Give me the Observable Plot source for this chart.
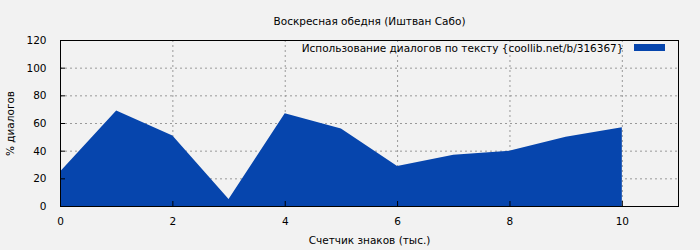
<!DOCTYPE html>
<html>
<head>
<meta charset="utf-8">
<script src="https://cdn.jsdelivr.net/npm/d3@7"></script>
<script src="https://cdn.jsdelivr.net/npm/@observablehq/plot@0.6"></script>
<style>
  html, body { margin: 0; padding: 0; background: #f2f2f2; }
  #chart { width: 700px; height: 250px; }
</style>
</head>
<body>
<div id="chart"></div>
<script>
const title = "Воскресная обедня (Иштван Сабо)";
const seriesName = "Использование диалогов по тексту {coollib.net/b/316367}";
const xLabel = "Счетчик знаков (тыс.)";
const yLabel = "% диалогов";
const xs = [0, 1, 2, 3, 4, 5, 6, 7, 8, 9, 10];
const ys = [25, 69, 51, 5, 67, 56, 29, 37, 40, 50, 57];
const xTicks = [0, 2, 4, 6, 8, 10];
const yTicks = [0, 20, 40, 60, 80, 100, 120];

const data = xs.map((x, i) => ({x, y: ys[i]}));
const font = "DejaVu Sans, sans-serif";
const fill = "#0645ad";
const fs = 10.5;

const chart = Plot.plot({
  width: 700,
  height: 250,
  marginLeft: 60,
  marginRight: 22,
  marginTop: 40,
  marginBottom: 44,
  style: {background: "#f2f2f2", fontFamily: font, fontSize: fs + "px", color: "#000"},
  x: {domain: [0, 11], label: null},
  y: {domain: [0, 120], label: null},
  marks: [
    Plot.gridX(xTicks.filter(d => d > 0), {stroke: "#999", strokeOpacity: 1, strokeDasharray: "2,3"}),
    Plot.gridY(yTicks.filter(d => d > 0 && d < 120), {stroke: "#999", strokeOpacity: 1, strokeDasharray: "2,3"}),
    Plot.areaY(data, {x: "x", y: "y", fill: fill}),
    Plot.frame({stroke: "#000"}),
    Plot.axisX({ticks: xTicks, tickSize: -5, tickPadding: 16, tickFormat: d => d, fontSize: fs}),
    Plot.axisY({ticks: yTicks, tickSize: -5, tickPadding: 19, tickFormat: d => d, fontSize: fs}),
    Plot.text([title], {frameAnchor: "top", dy: -23, text: d => d, fontSize: fs}),
    Plot.text([seriesName], {frameAnchor: "top-right", dx: -55, dy: 4, text: d => d, fontSize: fs, textAnchor: "end"}),
    Plot.text([xLabel], {frameAnchor: "bottom", dy: 37, text: d => d, fontSize: fs}),
    Plot.text([yLabel], {frameAnchor: "left", dx: -50, rotate: -90, textAnchor: "middle", text: d => d, fontSize: fs})
  ]
});
document.getElementById("chart").append(chart);

// legend swatch placed relative to the frame via scales
const sx = chart.scale("x"), sy = chart.scale("y");
const svg = d3.select(chart);
const frameRight = sx.range[1];
const frameTop = sy.range[1];
svg.append("rect")
  .attr("x", frameRight - 44).attr("y", frameTop + 4)
  .attr("width", 31).attr("height", 7)
  .attr("fill", fill);
</script>
</body>
</html>
